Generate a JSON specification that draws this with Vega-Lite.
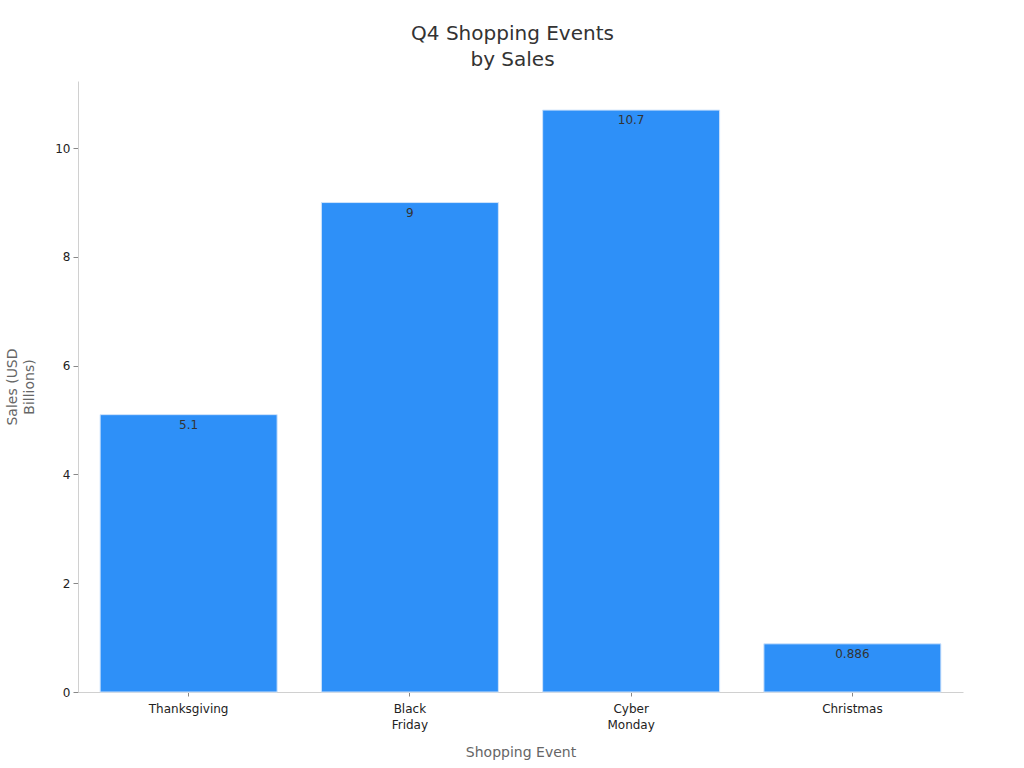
{
  "$schema": "https://vega.github.io/schema/vega-lite/v6.json",
  "autosize": "none",
  "padding": {"left": 78, "top": 81, "right": 61, "bottom": 76},
  "width": 885,
  "height": 611,
  "background": "white",
  "title": {
    "text": ["Q4 Shopping Events", "by Sales"],
    "anchor": "middle",
    "dx": -8,
    "font": "DejaVu Sans",
    "fontSize": 20,
    "fontWeight": "normal",
    "color": "#333333",
    "lineHeight": 26,
    "offset": 11
  },
  "data": {
    "values": [
      {"event": "Thanksgiving", "sales": 5.1},
      {"event": "Black Friday", "sales": 9},
      {"event": "Cyber Monday", "sales": 10.7},
      {"event": "Christmas", "sales": 0.886}
    ]
  },
  "encoding": {
    "x": {
      "field": "event",
      "type": "nominal",
      "sort": null,
      "title": "Shopping Event",
      "scale": {"paddingInner": 0.2, "paddingOuter": 0.1},
      "axis": {
        "labelAngle": 0,
        "labelExpr": "split(datum.label, ' ')",
        "labelLineHeight": 16,
        "labelPadding": 7,
        "tickSize": 4,
        "titlePadding": 15
      }
    },
    "y": {
      "field": "sales",
      "type": "quantitative",
      "title": ["Sales (USD", "Billions)"],
      "scale": {"domain": [0, 11.235], "nice": false},
      "axis": {
        "values": [0, 2, 4, 6, 8, 10],
        "grid": false,
        "tickSize": 5,
        "labelPadding": 3,
        "titlePadding": 18,
        "titleLineHeight": 17
      }
    }
  },
  "layer": [
    {
      "mark": {"type": "bar", "color": "#2E90F8", "stroke": "#cfe3fb", "strokeWidth": 1}
    },
    {
      "mark": {
        "type": "text",
        "baseline": "top",
        "dy": 5,
        "font": "DejaVu Sans",
        "fontSize": 12,
        "color": "#333333"
      },
      "encoding": {"text": {"field": "sales", "type": "quantitative"}}
    }
  ],
  "config": {
    "view": {"stroke": null},
    "font": "DejaVu Sans",
    "axis": {
      "labelFont": "DejaVu Sans",
      "labelFontSize": 12,
      "labelColor": "#222222",
      "titleFont": "DejaVu Sans",
      "titleFontSize": 14,
      "titleFontWeight": "normal",
      "titleColor": "#666666",
      "domainColor": "#d0d0d0",
      "tickColor": "#888888"
    }
  }
}
